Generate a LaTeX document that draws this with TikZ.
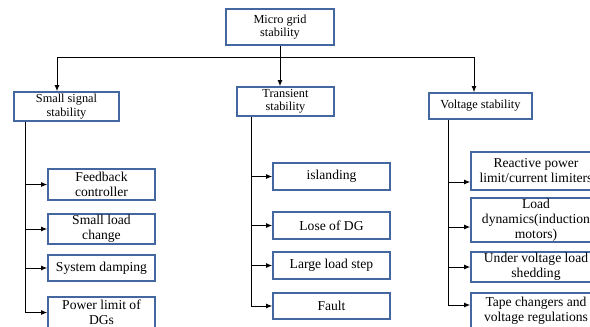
\documentclass[tikz,border=0pt]{standalone}
\usepackage{fontspec}
\setmainfont{Liberation Serif}
\usetikzlibrary{arrows.meta}
\definecolor{boxblue}{RGB}{68,103,160}
\begin{document}
\begin{tikzpicture}[x=1pt,y=-1pt,
 box/.style={draw=boxblue,line width=1.7pt,fill=white,align=center,inner sep=0pt},
 topbox/.style={box,font=\fontsize{12.3}{13.5}\selectfont},
 leafbox/.style={box,font=\fontsize{13.6}{15}\selectfont},
 link/.style={line width=0.9pt},
 arr/.style={link,-{Latex[length=6pt,width=5pt]}}]
 \useasboundingbox (0,0) rectangle (590,327);
 \clip (0,0) rectangle (590,327);
 % main levels
 \node[topbox,minimum width=108pt,minimum height=36pt] (top) at (280,27) {Micro grid\\stability};
 \node[topbox,minimum width=105pt,minimum height=29pt] (ss) at (66.5,106.5) {Small signal\\stability};
 \node[topbox,minimum width=97pt,minimum height=29pt] (tr) at (285.5,101.5) {Transient\\stability};
 \node[topbox,minimum width=103pt,minimum height=26pt] (vs) at (480.5,106) {Voltage stability};
 % small signal
 \node[leafbox,minimum width=107pt,minimum height=31pt] (fb) at (101.5,184.5) {Feedback\\controller};
 \node[leafbox,minimum width=107pt,minimum height=30pt] (sl) at (101.5,229) {Small load\\change};
 \node[leafbox,minimum width=107pt,minimum height=26pt] (sd) at (101.5,268) {System damping};
 \node[leafbox,minimum width=107pt,minimum height=31pt] (pl) at (101.5,312.5) {Power limit of\\DGs};
 % transient
 \node[leafbox,minimum width=117pt,minimum height=27pt] (isl) at (331.5,176.5) {islanding};
 \node[leafbox,minimum width=117pt,minimum height=27pt] (ldg) at (331.5,225.5) {Lose of DG};
 \node[leafbox,minimum width=117pt,minimum height=27pt] (lls) at (331.5,265.5) {Large load step};
 \node[leafbox,minimum width=117pt,minimum height=26pt] (flt) at (331.5,306) {Fault};
 % voltage
 \node[leafbox,minimum width=130pt,minimum height=38pt] (rp) at (536,171) {Reactive power\\limit/current limiters};
 \node[leafbox,minimum width=130pt,minimum height=44pt] (ld) at (536,220) {Load\\dynamics(induction\\motors)};
 \node[leafbox,minimum width=130pt,minimum height=30pt] (uv) at (536,267) {Under voltage load\\shedding};
 \node[leafbox,minimum width=130pt,minimum height=36pt] (tc) at (536,311) {Tape changers and\\voltage regulations};
 % top split
 \coordinate (split) at (top.south |- 0,57);
 \draw[arr] (top.south) -- (top.south |- tr.north);
 \draw[arr] (split) -| ([xshift=-9.5pt]ss.north);
 \draw[arr] (split) -| ([xshift=-6.5pt]vs.north);
 % trunks
 \coordinate (ssT) at ([xshift=12pt]ss.south west);
 \coordinate (trT) at ([xshift=15pt]tr.south west);
 \coordinate (vsT) at ([xshift=20pt]vs.south west);
 \draw[arr] (ssT) |- (fb.west);
 \draw[arr] (ssT) |- (sl.west);
 \draw[arr] (ssT) |- (sd.west);
 \draw[arr] (ssT) |- (pl.west);
 \draw[arr] (trT) |- (isl.west);
 \draw[arr] (trT) |- (ldg.west);
 \draw[arr] (trT) |- (lls.west);
 \draw[arr] (trT) |- (flt.west);
 \draw[arr] (vsT) |- ([yshift=-11pt]rp.west);
 \draw[arr] (vsT) |- ([yshift=-7pt]ld.west);
 \draw[arr] (vsT) |- (uv.west);
 \draw[arr] (vsT) |- ([yshift=6pt]tc.west);
\end{tikzpicture}
\end{document}
